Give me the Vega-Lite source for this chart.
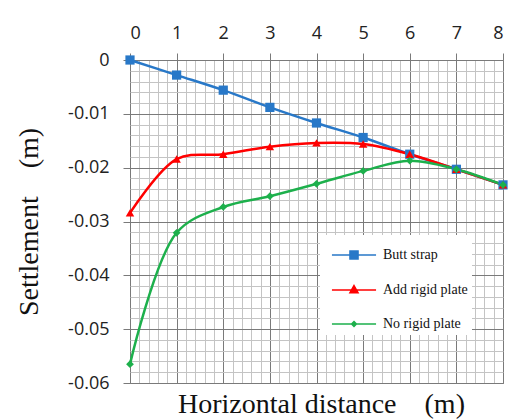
{
  "$schema": "https://vega.github.io/schema/vega-lite/v6.json",
  "width": 373,
  "height": 323,
  "autosize": {"type": "none"},
  "padding": {"left": 130, "top": 60, "right": 7, "bottom": 37},
  "background": "white",
  "config": {
    "view": {"stroke": "#808080", "strokeWidth": 1},
    "axis": {"labelFont": "Open Sans", "labelFontSize": 18, "labelColor": "#222", "domain": false},
    "legend": {
      "orient": "none",
      "legendX": 190,
      "legendY": 175,
      "fillColor": "white",
      "padding": 4,
      "rowPadding": 11,
      "labelFont": "Liberation Serif",
      "labelFontSize": 14,
      "labelColor": "#111",
      "labelOffset": 13,
      "symbolOffset": 14,
      "symbolOpacity": 1,
      "symbolStrokeWidth": 1.5,
      "symbolSize": 900
    }
  },
  "title": {
    "text": "Horizontal distance\u00a0\u00a0\u00a0\u00a0(m)",
    "orient": "bottom",
    "font": "Liberation Serif",
    "fontSize": 28,
    "fontWeight": "normal",
    "color": "#111",
    "offset": -1,
    "dx": 5
  },
  "data": {
    "values": [
      {"series": "Butt strap", "x": 0, "y": 0},
      {"series": "Butt strap", "x": 1, "y": -0.0028},
      {"series": "Butt strap", "x": 2, "y": -0.0056},
      {"series": "Butt strap", "x": 3, "y": -0.0088},
      {"series": "Butt strap", "x": 4, "y": -0.0117},
      {"series": "Butt strap", "x": 5, "y": -0.0144},
      {"series": "Butt strap", "x": 6, "y": -0.0175},
      {"series": "Butt strap", "x": 7, "y": -0.0203},
      {"series": "Butt strap", "x": 8, "y": -0.0232},
      {"series": "Add rigid plate", "x": 0, "y": -0.0284},
      {"series": "Add rigid plate", "x": 1, "y": -0.0184},
      {"series": "Add rigid plate", "x": 2, "y": -0.0175},
      {"series": "Add rigid plate", "x": 3, "y": -0.0161},
      {"series": "Add rigid plate", "x": 4, "y": -0.0154},
      {"series": "Add rigid plate", "x": 5, "y": -0.0156},
      {"series": "Add rigid plate", "x": 6, "y": -0.0175},
      {"series": "Add rigid plate", "x": 7, "y": -0.0203},
      {"series": "Add rigid plate", "x": 8, "y": -0.0232},
      {"series": "No rigid plate", "x": 0, "y": -0.0565},
      {"series": "No rigid plate", "x": 1, "y": -0.0321},
      {"series": "No rigid plate", "x": 2, "y": -0.0273},
      {"series": "No rigid plate", "x": 3, "y": -0.0253},
      {"series": "No rigid plate", "x": 4, "y": -0.0230},
      {"series": "No rigid plate", "x": 5, "y": -0.0206},
      {"series": "No rigid plate", "x": 6, "y": -0.0187},
      {"series": "No rigid plate", "x": 7, "y": -0.0203},
      {"series": "No rigid plate", "x": 8, "y": -0.0232}
    ]
  },
  "encoding": {
    "x": {
      "field": "x",
      "type": "quantitative",
      "scale": {"domain": [0, 8], "nice": false},
      "axis": {
        "orient": "top",
        "title": null,
        "values": [0,0.2,0.4,0.6,0.8,1,1.2,1.4,1.6,1.8,2,2.2,2.4,2.6,2.8,3,3.2,3.4,3.6,3.8,4,4.2,4.4,4.6,4.8,5,5.2,5.4,5.6,5.8,6,6.2,6.4,6.6,6.8,7,7.2,7.4,7.6,7.8,8],
        "grid": true,
        "gridColor": {"condition": {"test": "abs(datum.value - round(datum.value)) < 1e-6", "value": "#7a7a7a"}, "value": "#c4c4c4"},
        "tickColor": {"condition": {"test": "abs(datum.value - round(datum.value)) < 1e-6", "value": "#7a7a7a"}, "value": "transparent"},
        "tickSize": 7,
        "labelPadding": 11,
        "labelExpr": "abs(datum.value - round(datum.value)) < 1e-6 ? toString(round(datum.value)) : ''"
      }
    },
    "y": {
      "field": "y",
      "type": "quantitative",
      "scale": {"domain": [-0.06, 0], "nice": false, "zero": false},
      "axis": {
        "title": "Settlement\u00a0\u00a0\u00a0\u00a0(m)",
        "titleFont": "Liberation Serif",
        "titleFontSize": 28,
        "titleFontWeight": "normal",
        "titleColor": "#111",
        "titlePadding": 24,
        "values": [0,-0.002,-0.004,-0.006,-0.008,-0.01,-0.012,-0.014,-0.016,-0.018,-0.02,-0.022,-0.024,-0.026,-0.028,-0.03,-0.032,-0.034,-0.036,-0.038,-0.04,-0.042,-0.044,-0.046,-0.048,-0.05,-0.052,-0.054,-0.056,-0.058,-0.06],
        "grid": true,
        "gridColor": {"condition": {"test": "abs(datum.value*100 - round(datum.value*100)) < 1e-6", "value": "#7a7a7a"}, "value": "#c4c4c4"},
        "tickColor": {"condition": {"test": "abs(datum.value*100 - round(datum.value*100)) < 1e-6", "value": "#7a7a7a"}, "value": "transparent"},
        "tickSize": 7,
        "labelPadding": 14,
        "labelExpr": "abs(datum.value*100 - round(datum.value*100)) < 1e-6 ? (abs(datum.value) < 1e-9 ? '0' : '-' + format(abs(datum.value), '.2f')) : ''"
      }
    }
  },
  "layer": [
    {
      "mark": {"type": "line", "interpolate": "catmull-rom", "strokeWidth": 2.5},
      "encoding": {
        "color": {
          "field": "series",
          "type": "nominal",
          "sort": null,
          "scale": {"domain": ["Butt strap", "Add rigid plate", "No rigid plate"], "range": ["#2878c8", "#ff0000", "#1db04c"]},
          "legend": null
        },
        "detail": {"field": "series"}
      }
    },
    {
      "mark": {"type": "point", "filled": true, "opacity": 1},
      "encoding": {
        "color": {
          "field": "series",
          "type": "nominal",
          "scale": {"domain": ["Butt strap", "Add rigid plate", "No rigid plate"], "range": ["#2878c8", "#ff0000", "#1db04c"]},
          "legend": null
        },
        "shape": {
          "field": "series",
          "type": "nominal",
          "scale": {"domain": ["Butt strap", "Add rigid plate", "No rigid plate"], "range": ["square", "triangle-up", "diamond"]},
          "legend": null
        },
        "size": {
          "field": "series",
          "type": "nominal",
          "scale": {"domain": ["Butt strap", "Add rigid plate", "No rigid plate"], "range": [85, 60, 35]},
          "legend": null
        }
      }
    },
    {
      "mark": {"type": "point", "filled": true, "opacity": 0, "strokeWidth": 2, "size": 900},
      "encoding": {
        "fill": {
          "field": "series",
          "type": "nominal",
          "scale": {"domain": ["Butt strap", "Add rigid plate", "No rigid plate"], "range": ["#2878c8", "#ff0000", "#1db04c"]},
          "legend": {"title": null}
        },
        "stroke": {
          "field": "series",
          "type": "nominal",
          "scale": {"domain": ["Butt strap", "Add rigid plate", "No rigid plate"], "range": ["#2878c8", "#ff0000", "#1db04c"]},
          "legend": {"title": null}
        },
        "shape": {
          "field": "series",
          "type": "nominal",
          "scale": {"domain": ["Butt strap", "Add rigid plate", "No rigid plate"], "range": ["M-1.47,0H1.47M-0.27,-0.27H0.27V0.27H-0.27Z", "M-1.47,0H1.47M0,-0.3L0.27,0.18H-0.27Z", "M-1.47,0H1.47M0,-0.16L0.16,0L0,0.16L-0.16,0Z"]},
          "legend": {"title": null}
        }
      }
    }
  ],
  "resolve": {"scale": {"shape": "independent", "fill": "independent", "stroke": "independent", "color": "shared"}}
}
